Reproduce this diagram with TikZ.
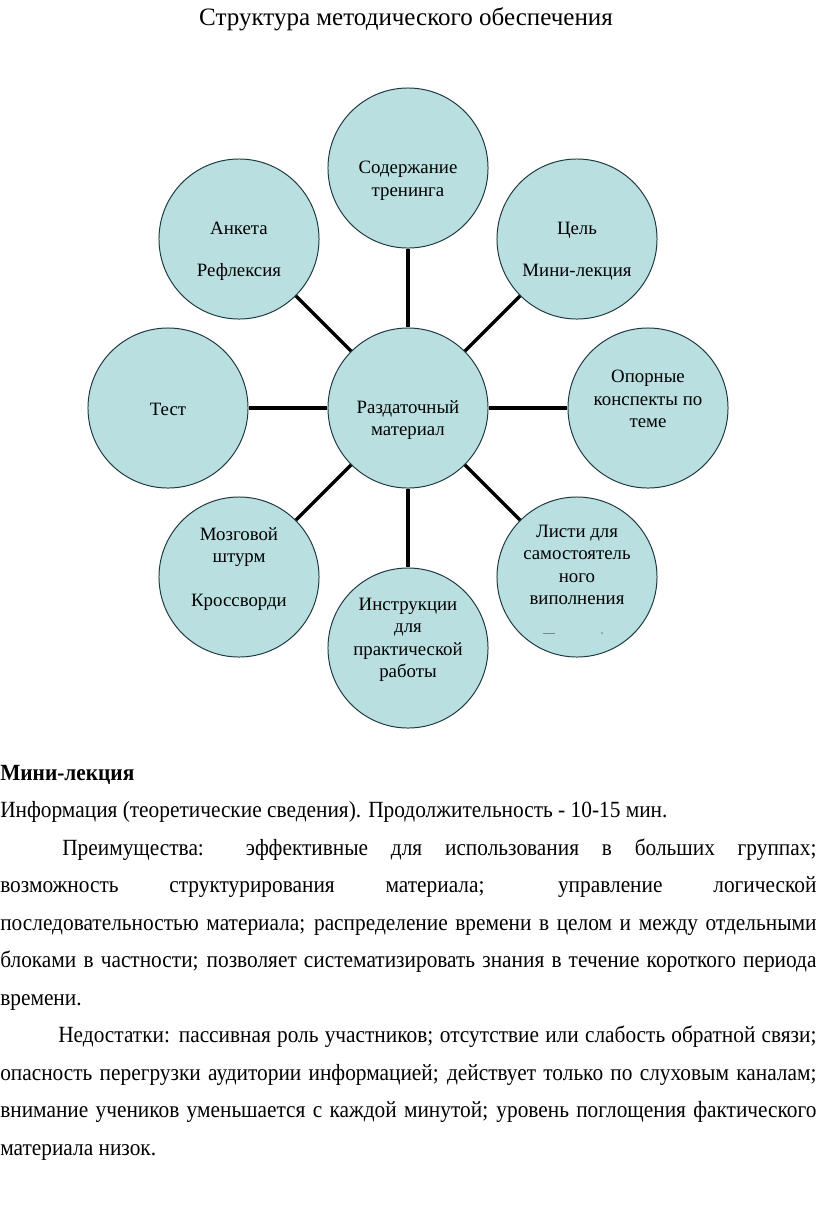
\documentclass[tikz,border=0pt]{standalone}
\usepackage{fontspec}
\setmainfont{Liberation Serif}
\newfontfamily\bodyfont[FakeStretch=0.92]{Liberation Serif}
\usetikzlibrary{positioning}
\definecolor{BubbleFill}{HTML}{B9DFE1}
\definecolor{BubbleEdge}{HTML}{1F3A3F}
\definecolor{Faint}{HTML}{6F8C90}

\begin{document}
\begin{tikzpicture}[x=0.025cm, y=-0.025cm,
  bubble/.style={circle, draw=BubbleEdge, line width=0.7pt, fill=BubbleFill, minimum size=4cm, inner sep=0pt},
  bubbletext/.style={align=center, inner sep=0pt, font=\fontsize{13.4}{16}\selectfont},
  spoke/.style={line width=2.4pt, black},
  bodyline/.style={anchor=base west, inner sep=0pt, font=\bodyfont\fontsize{16.5}{20}\selectfont}]
  \useasboundingbox (0,0) rectangle (816,1213);
  \node[anchor=base, inner sep=0pt, font=\fontsize{17.8}{20}\selectfont] (title) at (406,25) {Структура методического обеспечения};

  % the ring of circles
  \node[bubble] (hub) at (408,408) {};
  \node[bubble] (top) at (408,168) {};
  \node[bubble] (ne) at (577,239) {};
  \node[bubble] (east) at (648,408) {};
  \node[bubble] (se) at (577,577) {};
  \node[bubble] (bottom) at (408,648) {};
  \node[bubble] (sw) at (239,577) {};
  \node[bubble] (west) at (168,408) {};
  \node[bubble] (nw) at (239,239) {};
  \draw[spoke] (hub) -- (top);
  \draw[spoke] (hub) -- (ne);
  \draw[spoke] (hub) -- (east);
  \draw[spoke] (hub) -- (se);
  \draw[spoke] (hub) -- (bottom);
  \draw[spoke] (hub) -- (sw);
  \draw[spoke] (hub) -- (west);
  \draw[spoke] (hub) -- (nw);

  \node[bubbletext] (hub-txt) at (408,420) {Раздаточный\\материал};
  \node[bubbletext] (top-txt) at (408,181) {Содержание\\тренинга};
  \node[bubbletext] (ne-txt) at (577,251) {Цель\\[0.49cm]Мини-лекция};
  \node[bubbletext] (east-txt) at (648,399) {Опорные\\конспекты по\\теме};
  \node[bubbletext] (se-txt) at (577,565) {Листи для\\самостоятель\\ного\\виполнения};
  \node[bubbletext] (bottom-txt) at (408,640) {Инструкции\\для\\практической\\работы};
  \node[bubbletext] (sw-txt) at (239,569) {Мозговой\\штурм\\[0.54cm]Кроссворди};
  \node[bubbletext] (west-txt) at (168,409) {Тест};
  \node[bubbletext] (nw-txt) at (239,251) {Анкета\\[0.49cm]Рефлексия};
  \draw[Faint, line width=0.6pt] (543,633) -- (555,633);
  \fill[Faint] (602,633) circle (0.7pt);

  % text below the diagram
  \node[bodyline] (b1) at (0,780) {\textbf{Мини-лекция}};
  \node[bodyline] (b2) at (0,817.5) {Информация (теоретические сведения). Продолжительность - 10-15 мин.};
  \node[bodyline] (b3) at (0,855) {\makebox[20.4cm][s]{\hspace*{1.55cm}Преимущества: эффективные для использования в больших группах;}};
  \node[bodyline] (b4) at (0,892.5) {\makebox[20.4cm][s]{возможность структурирования материала; управление логической}};
  \node[bodyline] (b5) at (0,930) {\makebox[20.4cm][s]{последовательностью материала; распределение времени в целом и между отдельными}};
  \node[bodyline] (b6) at (0,967.5) {\makebox[20.4cm][s]{блоками в частности; позволяет систематизировать знания в течение короткого периода}};
  \node[bodyline] (b7) at (0,1005) {времени.};
  \node[bodyline] (b8) at (0,1042.5) {\makebox[20.4cm][s]{\hspace*{1.45cm}Недостатки: пассивная роль участников; отсутствие или слабость обратной связи;}};
  \node[bodyline] (b9) at (0,1080) {\makebox[20.4cm][s]{опасность перегрузки аудитории информацией; действует только по слуховым каналам;}};
  \node[bodyline] (b10) at (0,1117.5) {\makebox[20.4cm][s]{внимание учеников уменьшается с каждой минутой; уровень поглощения фактического}};
  \node[bodyline] (b11) at (0,1155) {материала низок.};
\end{tikzpicture}
\end{document}
